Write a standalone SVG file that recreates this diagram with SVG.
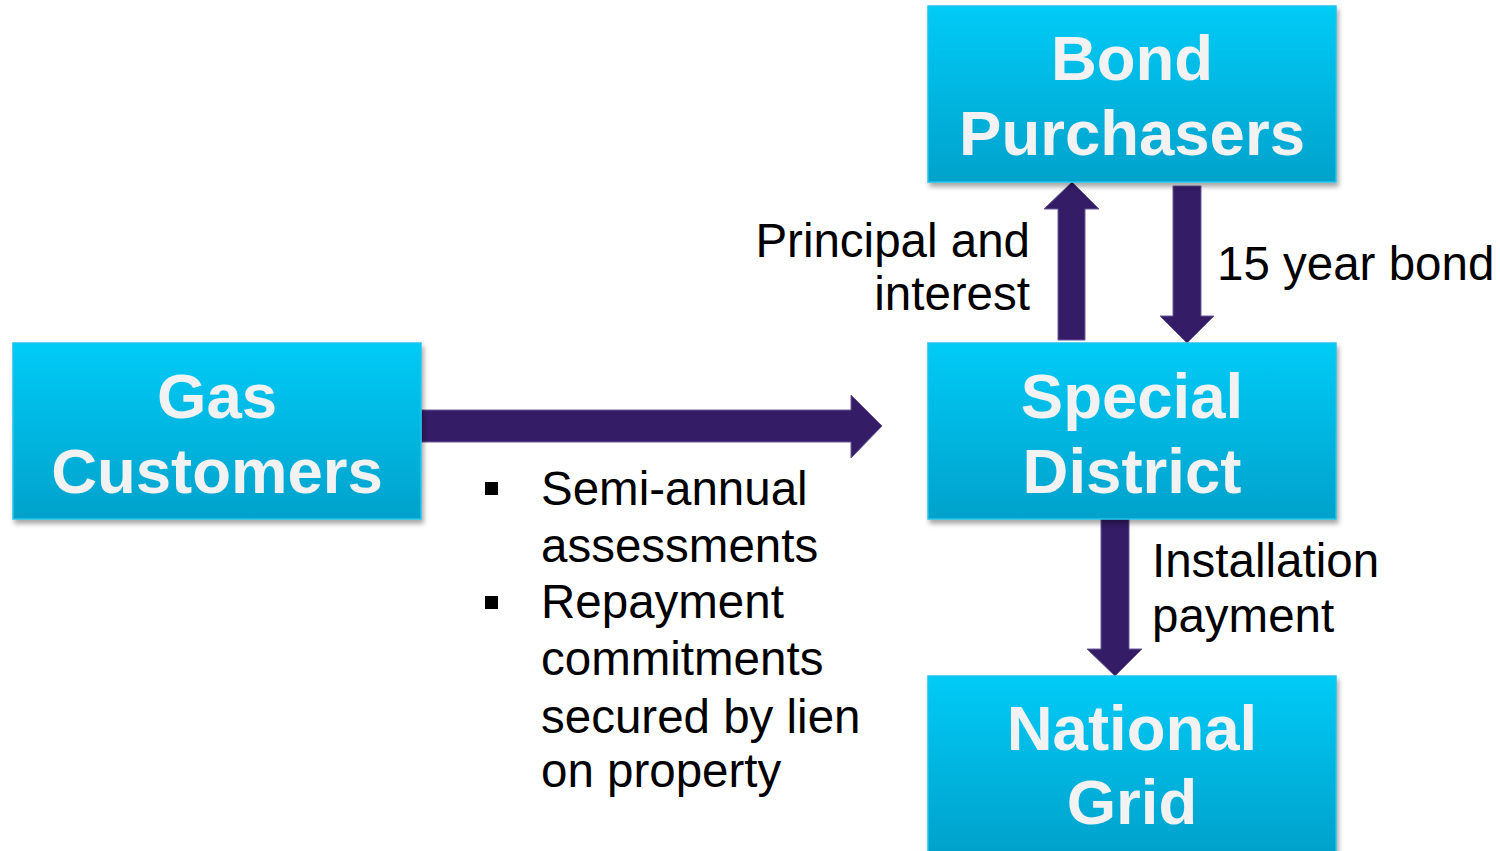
<svg xmlns="http://www.w3.org/2000/svg" width="1500" height="851" viewBox="0 0 1500 851">
<defs>
<linearGradient id="boxGrad" x1="0" y1="0" x2="0" y2="1">
<stop offset="0" stop-color="#00cbf7"/>
<stop offset="1" stop-color="#00a2cb"/>
</linearGradient>
<filter id="shadow" x="-5%" y="-5%" width="112%" height="115%">
<feDropShadow dx="2" dy="4" stdDeviation="2.5" flood-color="#000" flood-opacity="0.35"/>
</filter>
<style>
.box{fill:url(#boxGrad);stroke:#20c4ea;stroke-width:1.5;filter:url(#shadow);}
.title{font-family:"Liberation Sans",Arial,sans-serif;font-weight:bold;font-size:63.5px;fill:#f2f2f2;text-anchor:middle;}
.lbl{font-family:"Liberation Sans",Arial,sans-serif;font-size:47.5px;fill:#000;}
.arrow{fill:#341c66;stroke:#6a5a9a;stroke-width:1;}
</style>
</defs>
<g id="connectors">
<polygon class="arrow" points="421,410 851,410 851,395 882,426 851,458 851,442 421,442"/>
<polygon class="arrow" points="1058,340 1058,209 1044,209 1072,182 1099,209 1085,209 1085,340"/>
<polygon class="arrow" points="1173,186 1201,186 1201,316 1214,316 1187,343 1160,316 1173,316"/>
<polygon class="arrow" points="1101,519 1129,519 1129,649 1142,649 1115,676 1087,649 1101,649"/>
</g>
<g id="bond-purchasers">
<rect class="box" x="928" y="6" width="408" height="176"/>
<text class="title" x="1132" y="80">Bond</text>
<text class="title" x="1132" y="155">Purchasers</text>
</g>
<g id="special-district">
<rect class="box" x="928" y="343" width="408" height="176"/>
<text class="title" x="1132" y="418">Special</text>
<text class="title" x="1132" y="493">District</text>
</g>
<g id="gas-customers">
<rect class="box" x="13" y="343" width="408" height="176"/>
<text class="title" x="217" y="418">Gas</text>
<text class="title" x="217" y="493">Customers</text>
</g>
<g id="national-grid">
<rect class="box" x="928" y="676" width="408" height="176"/>
<text class="title" x="1132" y="750">National</text>
<text class="title" x="1132" y="824">Grid</text>
</g>
<g id="labels">
<text class="lbl" x="1030" y="257" text-anchor="end">Principal and</text>
<text class="lbl" x="1030" y="310" text-anchor="end">interest</text>
<text class="lbl" x="1217" y="280">15 year bond</text>
<text class="lbl" x="1152" y="577">Installation</text>
<text class="lbl" x="1152" y="632">payment</text>
<rect x="485" y="482" width="13" height="13" fill="#000"/>
<rect x="485" y="596" width="13" height="13" fill="#000"/>
<text class="lbl" x="541" y="505">Semi-annual</text>
<text class="lbl" x="541" y="562">assessments</text>
<text class="lbl" x="541" y="618">Repayment</text>
<text class="lbl" x="541" y="675">commitments</text>
<text class="lbl" x="541" y="733">secured by lien</text>
<text class="lbl" x="541" y="787">on property</text>
</g>
</svg>
